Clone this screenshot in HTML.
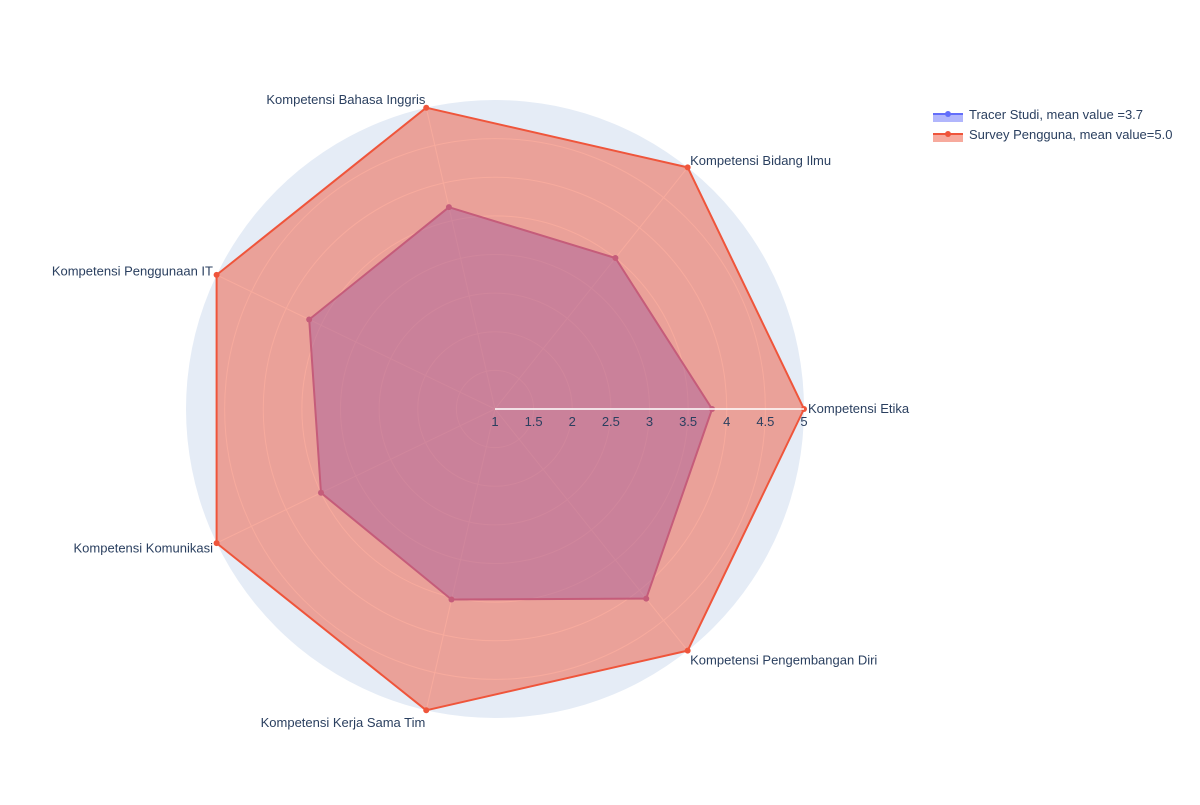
<!DOCTYPE html>
<html><head><meta charset="utf-8"><style>
body{margin:0;background:#fff;font-family:"Liberation Sans",Arial,sans-serif;}
svg text{font-family:"Liberation Sans",Arial,sans-serif;}
</style></head><body>
<svg id="chart" width="1200" height="800" xmlns="http://www.w3.org/2000/svg"></svg>
<script>
const categories = ["Kompetensi Etika","Kompetensi Bidang Ilmu","Kompetensi Bahasa Inggris","Kompetensi Penggunaan IT","Kompetensi Komunikasi","Kompetensi Kerja Sama Tim","Kompetensi Pengembangan Diri"];
const tracerValues = [3.81,3.50,3.68,3.67,3.50,3.53,4.14];
const surveyValues = [5,5,5,5,5,5,5];
const tickLabels = ["1","1.5","2","2.5","3","3.5","4","4.5","5"];
const tickValues = [1,1.5,2,2.5,3,3.5,4,4.5,5];
const rMin = 1, rMax = 5;

const NS="http://www.w3.org/2000/svg";
const svg=document.getElementById('chart');
const cx=495, cy=409, R=309;
function rScale(v){return (v-rMin)/(rMax-rMin)*R;}
function ang(i){return i*2*Math.PI/categories.length;}
function pt(i,v){const r=rScale(v),a=ang(i);return [cx+r*Math.cos(a), cy-r*Math.sin(a)];}
function mk(tag,attrs){const e=document.createElementNS(NS,tag);for(const k in attrs)e.setAttribute(k,attrs[k]);svg.appendChild(e);return e;}

let bg=mk('circle',{cx:cx,cy:cy,r:R,fill:'#E5ECF6'});


tickValues.forEach(v=>{if(v>rMin&&v<rMax){
  let c=mk('circle',{cx:cx,cy:cy,r:rScale(v),fill:'none',stroke:'#fff','stroke-width':1});
  
  
}});
categories.forEach((c,i)=>{const p=pt(i,rMax);
  let l=mk('line',{x1:cx,y1:cy,x2:p[0],y2:p[1],stroke:'#fff','stroke-width':1});
  
  
});

function series(vals,color,fill,name){
  const pts=vals.map((v,i)=>pt(i,v));
  const d=pts.map(p=>p[0].toFixed(1)+','+p[1].toFixed(1)).join(' ');
  let pg=mk('polygon',{points:d,fill:fill,stroke:color,'stroke-width':2,'stroke-linejoin':'round'});
  
  
  pts.forEach(p=>{let c=mk('circle',{cx:p[0],cy:p[1],r:3,fill:color});
    
    });
}
series(tracerValues,'#9a62b8','rgba(99,110,250,0.5)','tracer-series');
series(surveyValues,'#EF553B','rgba(239,85,59,0.5)','survey-series');

let ax=mk('line',{x1:cx,y1:cy,x2:cx+R,y2:cy,stroke:'#fff','stroke-width':1.5});


tickValues.forEach((v,i)=>{
  let t=mk('text',{x:cx+rScale(v),y:cy+17,'font-size':13,fill:'#2a3f5f','text-anchor':'middle'});
  t.textContent=tickLabels[i];
  
  
});
categories.forEach((c,i)=>{
  const a=ang(i),p=pt(i,rMax);const co=Math.cos(a),si=Math.sin(a);
  let anchor=co>0.1?'start':(co<-0.1?'end':'middle');
  let x=p[0]+co*4;
  let y=p[1]+4-(si>0?si*8:si*13);
  let t=mk('text',{x:x,y:y,'font-size':13,fill:'#2a3f5f','text-anchor':anchor});
  t.textContent=c;
  
  
});

const legend=[["Tracer Studi, mean value =3.7",'#636efa','rgba(99,110,250,0.5)'],["Survey Pengguna, mean value=5.0",'#EF553B','rgba(239,85,59,0.5)']];
legend.forEach((l,i)=>{const y=118+i*20;
  let g=document.createElementNS(NS,'g');svg.appendChild(g);
  
  
  const r1=document.createElementNS(NS,'rect');
  [['x',933],['y',y-4],['width',30],['height',8],['fill',l[2]]].forEach(a=>r1.setAttribute(a[0],a[1]));g.appendChild(r1);
  const ln=document.createElementNS(NS,'line');
  [['x1',933],['y1',y-4],['x2',963],['y2',y-4],['stroke',l[1]],['stroke-width',2]].forEach(a=>ln.setAttribute(a[0],a[1]));g.appendChild(ln);
  const c=document.createElementNS(NS,'circle');
  [['cx',948],['cy',y-4],['r',3],['fill',l[1]]].forEach(a=>c.setAttribute(a[0],a[1]));g.appendChild(c);
  const t=document.createElementNS(NS,'text');
  [['x',969],['y',y+1],['font-size',13],['fill','#2a3f5f']].forEach(a=>t.setAttribute(a[0],a[1]));
  t.textContent=l[0];g.appendChild(t);
});
</script>
</body></html>
